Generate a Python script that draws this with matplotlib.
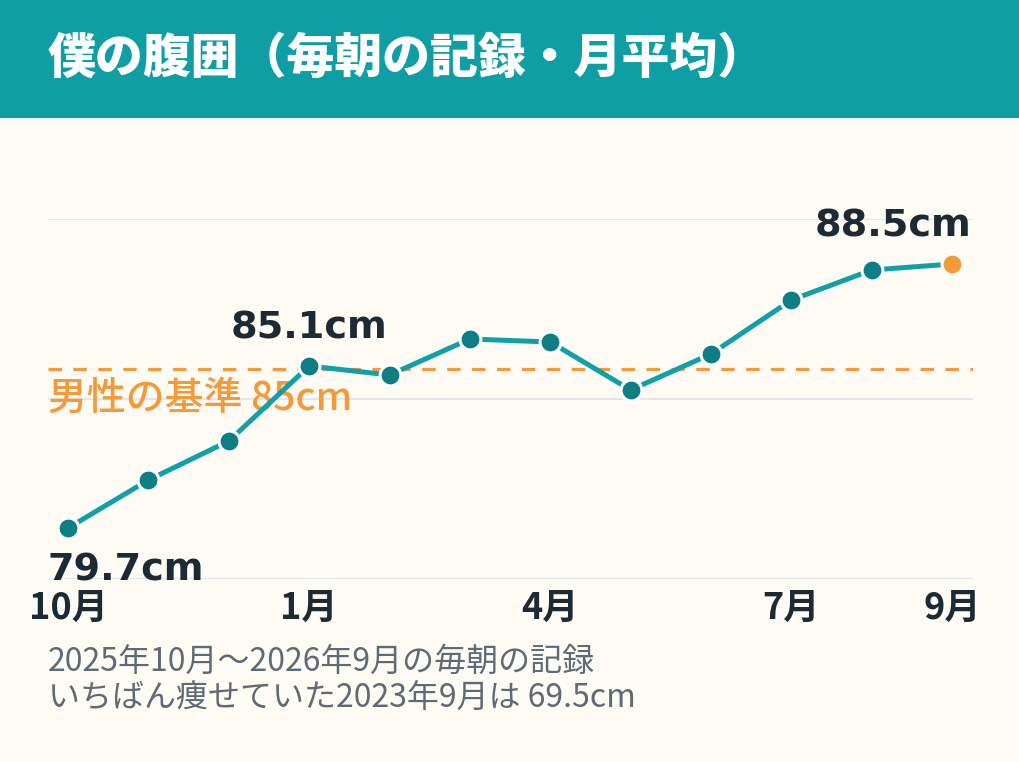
import matplotlib
matplotlib.use("Agg")
import matplotlib.pyplot as plt
import matplotlib.transforms as mtransforms

plt.rcParams['font.family'] = ['Noto Sans CJK JP', 'DejaVu Sans']

# ---- data ----
months = ["10月", "11月", "12月", "1月", "2月", "3月", "4月", "5月", "6月", "7月", "8月", "9月"]
waist = [79.7, 81.3, 82.6, 85.1, 84.8, 86.0, 85.9, 84.3, 85.5, 87.3, 88.3, 88.5]
tick_idx = [0, 3, 6, 9, 11]
tick_labels = ["10月", "1月", "4月", "7月", "9月"]
standard = 85.0
standard_label = "男性の基準 85cm"
yticks = [78, 84, 90]
title = "僕の腹囲（毎朝の記録・月平均）"
note1 = "2025年10月〜2026年9月の毎朝の記録"
note2 = "いちばん痩せていた2023年9月は 69.5cm"

# ---- style ----
BG = "#FEFAF4"
TEAL = "#11A0A7"
TEAL_DARK = "#0D7F84"
ORANGE = "#F39A3B"
DARK = "#1B2A33"
GRAY = "#5E6B74"
GRID = "#E3E6EA"

W, H = 1020, 762
fig = plt.figure(figsize=(W / 100, H / 100), dpi=100, facecolor=BG)

# header band
fig.patches.append(plt.Rectangle((0, 1 - 118 / H), 1, 118 / H, transform=fig.transFigure,
                                 facecolor="#109EA5", edgecolor="none", zorder=0))
fig.text(48 / W, 1 - 58 / H, title, color="white", fontsize=34.5, fontweight="heavy",
         ha="left", va="center")

ax = fig.add_axes([48 / W, 1 - 579 / H, (973 - 48) / W, (579 - 219) / H])
ax.set_facecolor(BG)
x = list(range(len(months)))
ax.set_xlim(-0.25, len(months) - 1 + 0.26)
ax.set_ylim(78, 90)
for s in ax.spines.values():
    s.set_visible(False)
ax.set_yticks(yticks)
ax.set_yticklabels([])
ax.tick_params(axis="y", length=0)
ax.grid(axis="y", color=GRID, linewidth=1.5)
ax.set_axisbelow(True)
ax.set_xticks(tick_idx)
ax.set_xticklabels(tick_labels, fontsize=26, fontweight="bold", color=DARK)
ax.tick_params(axis="x", length=0, pad=8)

# standard line
ax.axhline(standard, color=ORANGE, linewidth=2.3, dashes=(4.2, 3.6), zorder=2)
blend = mtransforms.blended_transform_factory(ax.transAxes, ax.transData)
ax.annotate(standard_label, xy=(0, standard), xycoords=blend, xytext=(0, -29.5),
            textcoords="offset points", ha="left", va="baseline", color=ORANGE,
            fontsize=28, fontweight="medium", zorder=1)

# series
ax.plot(x, waist, color=TEAL, linewidth=3.6, zorder=3, solid_capstyle="butt")
ax.plot(x[:-1], waist[:-1], linestyle="none", marker="o", markersize=15,
        markerfacecolor=TEAL_DARK, markeredgecolor="white", markeredgewidth=2.2,
        zorder=4, clip_on=False)
ax.plot(x[-1:], waist[-1:], linestyle="none", marker="o", markersize=15,
        markerfacecolor=ORANGE, markeredgecolor="white", markeredgewidth=2.2,
        zorder=4, clip_on=False)

lab_font = dict(fontsize=27.5, fontweight="bold", color=DARK, family="DejaVu Sans")
ax.annotate(f"{waist[0]:.1f}cm", xy=(x[0], waist[0]), xytext=(-14.5, -38),
            textcoords="offset points", ha="left", va="baseline", zorder=5, **lab_font)
ax.annotate(f"{waist[3]:.1f}cm", xy=(x[3], waist[3]), xytext=(0, 20),
            textcoords="offset points", ha="center", va="baseline", zorder=5, **lab_font)
ax.annotate(f"{waist[-1]:.1f}cm", xy=(x[-1], waist[-1]), xytext=(14, 20),
            textcoords="offset points", ha="right", va="baseline", zorder=5, **lab_font)

fig.text(48 / W, 1 - 662 / H, note1, color=GRAY, fontsize=23, ha="left", va="center")
fig.text(48 / W, 1 - 699 / H, note2, color=GRAY, fontsize=23, ha="left", va="center")

fig.savefig("out.png", dpi=100, facecolor=BG)
